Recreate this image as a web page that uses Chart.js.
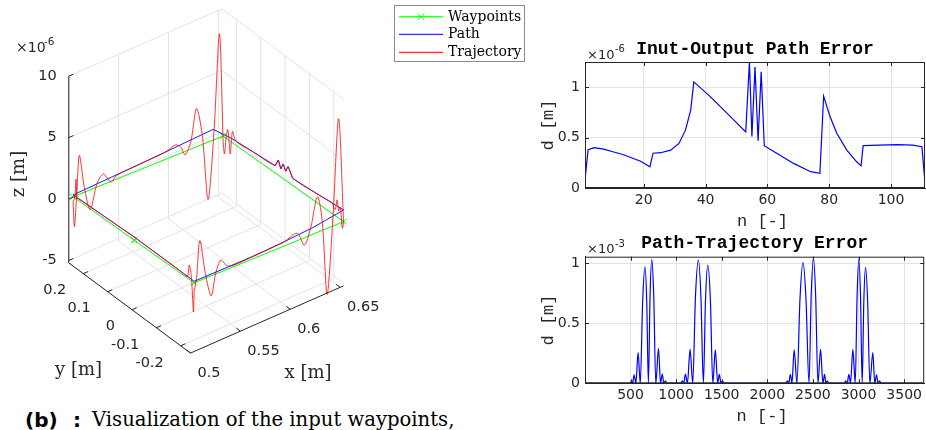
<!DOCTYPE html>
<html><head><meta charset="utf-8">
<script src="https://cdn.jsdelivr.net/npm/chart.js@4.4.1/dist/chart.umd.min.js"></script>
<style>
html,body{margin:0;padding:0;background:#fff;}
body{width:926px;height:430px;position:relative;overflow:hidden;}
canvas{position:absolute;}
.cap{position:absolute;white-space:nowrap;color:#000;line-height:22px;}
</style></head><body>
<canvas id="c3d" width="540" height="400" style="left:0;top:0"></canvas>
<canvas id="c1" width="406" height="204" style="left:520px;top:28px"></canvas>
<canvas id="c2" width="406" height="202" style="left:520px;top:228px"></canvas>
<span class="cap" style="left:25px;top:408px;font:bold 20px 'DejaVu Sans';">(b)</span>
<span class="cap" style="left:73px;top:408px;font:bold 20px 'DejaVu Sans';">:</span>
<span class="cap" style="left:92px;top:408px;font:19.6px 'DejaVu Serif';">Visualization of the input waypoints,</span>
<script>
// ================= DATA =================
// --- 3-D view: waypoints (x,y in m, z in µm) ---
const wpX = [0.5062, 0.5046, 0.6506, 0.6537, 0.5077, 0.5062];
const wpY = [0.016, 0.2610, 0.2430, -0.2393, -0.2238, 0.016];
const wpZ = [0, 0, 0, 0, 0, 0];
// --- path (blue): per waypoint edge, [fraction along edge, z in µm] ---
const pathEdge0 = [[0,0.26],[1,0.15]];
const pathEdge1 = [[0,0.15],[0.5,0.5],[0.934,0.87]];
const pathEdge2 = [[0.07,0.3],[0.25,0.45],[0.431,0.6],[0.458,1.24],[0.48,0.67],[0.498,1.2],[0.52,0.77],[0.539,1.27],[0.559,0.95],[0.58,0.58],[0.8,0.75],[0.95,0.9],[1,0.95]];
const pathEdge3 = [[0,0.95],[0.05,0.85],[0.2,0.55],[0.4,0.34],[0.6,0.2],[1,0.13]];
const pathEdge4 = [[0,0.13],[1,0.26]];
// --- trajectory (red): per waypoint edge, [fraction along edge, z in µm] ---
const trajEdge0 = [[0,0.26],[0.5,0.21],[0.9,0.17],[0.935,0.1],[0.952,1.6],[0.97,0.1],[1,-0.4]];
const trajEdge1 = [[0,-0.4],[0.009,-2.48],[0.025,0.2],[0.042,3.16],[0.075,0.4],[0.114,-1.61],[0.16,0.3],[0.201,0.87],[0.23,0.35],[0.255,-0.06],[0.29,0.3],[0.4,0.42],[0.5,0.5],[0.62,0.6],[0.681,0.85],[0.715,0.55],[0.747,-0.27],[0.785,0.6],[0.823,3.11],[0.862,0.7],[0.9,-4.67],[0.94,0.8],[0.976,8.45],[1,-0.5]];
const trajEdge2 = [[0,-0.5],[0.011,-1.38],[0.025,0.0],[0.038,0.79],[0.049,0.0],[0.059,-1.04],[0.069,0.0],[0.079,0.94],[0.106,0.33],[0.25,0.45],[0.431,0.6],[0.458,1.24],[0.48,0.67],[0.498,1.2],[0.52,0.77],[0.539,1.27],[0.559,0.95],[0.58,0.58],[0.8,0.75],[0.9,0.85],[0.93,0.5],[0.946,1.4],[0.96,0.6],[0.973,1.0],[0.99,-0.6],[1,0]];
const trajEdge3 = [[0,0],[0.033,8.54],[0.07,1.0],[0.11,-5.37],[0.143,0.8],[0.175,2.9],[0.22,0.6],[0.263,-0.6],[0.31,0.6],[0.4,0.34],[0.6,0.2],[0.733,0.12],[0.78,0.3],[0.821,0.96],[0.855,0.1],[0.886,-1.63],[0.925,0.4],[0.962,3.25],[0.985,0.2],[1,-0.6]];
const trajEdge4 = [[0,-0.6],[0.012,-2.4],[0.045,0.2],[0.081,1.17],[0.115,0.1],[0.2,0.15],[1,0.26]];
// --- 3-D axes ---
const X3LIM = [0.5, 0.6535];
const Y3LIM = [-0.2403, 0.2597];
const Z3LIM = [-5.2, 10];
const x3Ticks = [0.5, 0.55, 0.6, 0.65];
const y3Ticks = [-0.2, -0.1, 0, 0.1, 0.2];
const z3Ticks = [-5, 0, 5, 10];

// --- Input-output path error (x1e-6 m) ---
const ioN   = [1, 2, 4, 7, 10, 13, 16, 19, 22, 23, 25.5, 28.7, 31.4, 33.5, 35.2, 36.2, 41.6, 47, 53, 54.2, 55, 56, 57, 58, 59, 63, 68.5, 74, 77, 78.2, 80.3, 82.5, 85.7, 88.9, 90.3, 91, 96, 102, 107, 110, 111];
const ioErr = [0.08, 0.38, 0.40, 0.385, 0.36, 0.335, 0.30, 0.265, 0.21, 0.345, 0.35, 0.376, 0.442, 0.574, 0.772, 1.053, 0.904, 0.74, 0.557, 1.25, 0.51, 1.20, 0.47, 1.152, 0.42, 0.345, 0.244, 0.162, 0.145, 0.911, 0.706, 0.541, 0.376, 0.26, 0.22, 0.42, 0.425, 0.43, 0.425, 0.41, 0.05];
const ioXTicks = [20, 40, 60, 80, 100];
const ioYTicks = [0, 0.5, 1];

// --- Path-trajectory error (x1e-3 m) ---
const ptN = [1, 495, 512, 522, 540, 559, 583, 607, 633, 659, 678, 696, 714, 733, 755, 777, 807, 829, 848, 866, 881, 900,
  1050, 1068, 1084, 1102, 1124, 1153, 1182, 1212, 1244, 1272, 1299, 1322, 1347, 1376, 1402, 1430, 1456, 1474, 1492, 1508, 1525,
  2200, 2222, 2235, 2253, 2270, 2294, 2325, 2358, 2391, 2424, 2457, 2481, 2506, 2530, 2555, 2584, 2609, 2628, 2642, 2657, 2675,
  2845, 2858, 2876, 2894, 2912, 2938, 2964, 2984, 3003, 3022, 3040, 3058, 3077, 3100, 3124, 3157, 3178, 3197, 3215, 3230, 3248, 3720];
const ptErr = [0, 0, 0.02, 0, 0.07, 0, 0.255, 0, 0.68, 0.97, 0.68, 0, 0.72, 1.033, 0.72, 0, 0.29, 0, 0.077, 0, 0.02, 0,
  0, 0.02, 0, 0.077, 0, 0.283, 0, 0.72, 1.027, 0.72, 0, 0.69, 0.986, 0.69, 0, 0.278, 0, 0.075, 0, 0.02, 0,
  0, 0.02, 0, 0.075, 0, 0.278, 0, 0.7, 1.005, 0.7, 0, 0.73, 1.04, 0.73, 0, 0.283, 0, 0.075, 0, 0.02, 0,
  0, 0.02, 0, 0.075, 0, 0.283, 0, 0.72, 1.033, 0.72, 0, 0.68, 0.967, 0.68, 0, 0.256, 0, 0.07, 0, 0.02, 0, 0];
const ptXTicks = [500, 1000, 1500, 2000, 2500, 3000, 3500];
const ptYTicks = [0, 0.5, 1];

// ================= 3-D PROJECTION (view geometry) =================
const ORIGIN = {x:189, y:357};
const VX = {x:156, y:-69};
const VY = {x:-124, y:-92.5};
const VZ = {x:0, y:-191.5};
function proj(x, y, z){
  const fx = (x - X3LIM[0])/(X3LIM[1]-X3LIM[0]);
  const fy = (y - Y3LIM[0])/(Y3LIM[1]-Y3LIM[0]);
  const fz = (z - Z3LIM[0])/(Z3LIM[1]-Z3LIM[0]);
  return {x: ORIGIN.x + fx*VX.x + fy*VY.x + fz*VZ.x,
          y: ORIGIN.y + fx*VX.y + fy*VY.y + fz*VZ.y};
}
function onEdge(k, s, z){
  return proj(wpX[k] + s*(wpX[k+1]-wpX[k]), wpY[k] + s*(wpY[k+1]-wpY[k]), z);
}
function edgeSeries(edges){
  const out = [];
  edges.forEach((arr,k)=>arr.forEach(([s,z])=>out.push(onEdge(k,s,z))));
  return out;
}
const DARK = '#262626';
const GRID = '#e3e3e3';

const view3d = {
  id:'view3d',
  beforeDatasetsDraw(chart){
    const ctx = chart.ctx, sx = chart.scales.x, sy = chart.scales.y;
    const P = (x,y,z)=>{const p = proj(x,y,z); return [sx.getPixelForValue(p.x), sy.getPixelForValue(p.y)];};
    const [xl,xh]=X3LIM,[yl,yh]=Y3LIM,[zl,zh]=Z3LIM;
    ctx.save(); ctx.strokeStyle = GRID; ctx.lineWidth = 1;
    const seg=(a,b)=>{ctx.beginPath();ctx.moveTo(a[0],a[1]);ctx.lineTo(b[0],b[1]);ctx.stroke();};
    x3Ticks.forEach(x=>{seg(P(x,yl,zl),P(x,yh,zl)); seg(P(x,yh,zl),P(x,yh,zh));});
    y3Ticks.forEach(y=>{seg(P(xl,y,zl),P(xh,y,zl)); seg(P(xh,y,zl),P(xh,y,zh));});
    z3Ticks.forEach(z=>{seg(P(xl,yh,z),P(xh,yh,z)); seg(P(xh,yh,z),P(xh,yl,z));});
    ctx.restore();
  },
  afterDatasetsDraw(chart){
    const ctx = chart.ctx, sx = chart.scales.x, sy = chart.scales.y;
    const P = (x,y,z)=>{const p = proj(x,y,z); return [sx.getPixelForValue(p.x), sy.getPixelForValue(p.y)];};
    const [xl,xh]=X3LIM,[yl,yh]=Y3LIM,[zl,zh]=Z3LIM;
    const seg=(a,b)=>{ctx.beginPath();ctx.moveTo(a[0],a[1]);ctx.lineTo(b[0],b[1]);ctx.stroke();};
    const unit=(a,b)=>{const dx=b[0]-a[0],dy=b[1]-a[1],l=Math.hypot(dx,dy);return [dx/l,dy/l];};
    ctx.save();
    ctx.strokeStyle = DARK; ctx.lineWidth = 1;
    seg(P(xl,yh,zl),P(xl,yl,zl));
    seg(P(xl,yl,zl),P(xh,yl,zl));
    seg(P(xl,yh,zl),P(xl,yh,zh));
    const ux = unit(P(xl,yl,zl),P(xh,yl,zl));
    const uy = unit(P(xl,yl,zl),P(xl,yh,zl));
    const T = 5;
    ctx.fillStyle = DARK; ctx.font = "14.5px 'DejaVu Sans'";
    x3Ticks.forEach(x=>{const p=P(x,yl,zl); seg(p,[p[0]+uy[0]*T,p[1]+uy[1]*T]);
      ctx.textAlign='left'; ctx.textBaseline='middle'; ctx.fillText(String(x), p[0]+7, p[1]+20);});
    y3Ticks.forEach(y=>{const p=P(xl,y,zl); seg(p,[p[0]+ux[0]*T,p[1]+ux[1]*T]);
      ctx.textAlign='right'; ctx.textBaseline='middle'; ctx.fillText(String(y), p[0]-17, p[1]+17);});
    z3Ticks.forEach(z=>{const p=P(xl,yh,z); seg(p,[p[0]+ux[0]*T,p[1]+ux[1]*T]);
      ctx.textAlign='right'; ctx.textBaseline='middle'; ctx.fillText(String(z), p[0]-12, p[1]);});
    // exponent
    ctx.textAlign='left'; ctx.textBaseline='alphabetic';
    ctx.font = "14px 'DejaVu Sans'"; ctx.fillText('\u00d710', 16, 52);
    ctx.font = "10.5px 'DejaVu Sans'"; ctx.fillText('-6', 44, 45);
    // axis titles
    ctx.font = "18px 'DejaVu Serif'"; ctx.textAlign='center'; ctx.textBaseline='middle';
    ctx.fillText('x [m]', 308, 373);
    ctx.fillText('y [m]', 78.5, 370);
    ctx.save(); ctx.translate(19,174); ctx.rotate(-Math.PI/2); ctx.fillText('z [m]',0,0); ctx.restore();
    // legend
    ctx.fillStyle='#fff'; ctx.fillRect(394.5,5.5,130,56);
    ctx.strokeStyle='#8c8c8c'; ctx.strokeRect(394.5,5.5,130,56);
    const rows=[16.7,34.3,52.3];
    chart.data.datasets.forEach((ds,i)=>{
      const y=rows[i];
      ctx.strokeStyle=ds.borderColor; ctx.lineWidth=1;
      seg([399,y],[443,y]);
      if(ds.pointRadius>0){ const r=3.2; seg([421-r,y-r],[421+r,y+r]); seg([421-r,y+r],[421+r,y-r]); }
      ctx.fillStyle='#000'; ctx.font="14px 'DejaVu Serif'"; ctx.textAlign='left'; ctx.textBaseline='middle';
      ctx.fillText(ds.label, 448, y+0.5);
    });
    ctx.restore();
  }
};

new Chart(document.getElementById('c3d'), {
  type:'scatter',
  data:{datasets:[
    {label:'Waypoints', data: wpX.map((x,i)=>proj(x,wpY[i],wpZ[i])), showLine:true, borderColor:'#00ff00', borderWidth:1,
     pointStyle:'crossRot', pointRadius:4, pointBorderColor:'#00ff00', pointBorderWidth:1, order:3},
    {label:'Path', data: edgeSeries([pathEdge0,pathEdge1,pathEdge2,pathEdge3,pathEdge4]), showLine:true,
     borderColor:'#0000ff', borderWidth:0.9, pointRadius:0, order:2},
    {label:'Trajectory', data: edgeSeries([trajEdge0,trajEdge1,trajEdge2,trajEdge3,trajEdge4]), showLine:true,
     borderColor:'#ff0000', borderWidth:0.8, pointRadius:0, tension:0.3, order:1}
  ]},
  options:{responsive:false, animation:false, events:[], layout:{padding:0},
    plugins:{legend:{display:false}, tooltip:{enabled:false}},
    scales:{x:{type:'linear', min:0, max:540, display:false},
            y:{type:'linear', min:0, max:400, reverse:true, display:false}},
    elements:{line:{borderCapStyle:'round'}}
  },
  plugins:[view3d]
});

// ================= 2-D error charts =================
function errChart(id, xs, ys, o){
  const frame = {
    id:'frame'+id,
    afterDraw(chart){
      const {ctx, chartArea:a, scales:{x,y}} = chart;
      ctx.save();
      ctx.strokeStyle=DARK; ctx.lineWidth=1;
      ctx.strokeRect(a.left+0.5, a.top+0.5, a.right-a.left-1, a.bottom-a.top-1);
      const L=(x1,y1,x2,y2)=>{ctx.beginPath();ctx.moveTo(x1,y1);ctx.lineTo(x2,y2);ctx.stroke();};
      x.ticks.forEach(t=>{const p=Math.round(x.getPixelForValue(t.value))+0.5; L(p,a.bottom,p,a.bottom-4); L(p,a.top,p,a.top+4);});
      y.ticks.forEach(t=>{const p=Math.round(y.getPixelForValue(t.value))+0.5; L(a.left,p,a.left+4,p); L(a.right,p,a.right-4,p);});
      ctx.fillStyle='#000'; ctx.font="bold 18px 'Liberation Mono'"; ctx.textAlign='center'; ctx.textBaseline='middle';
      ctx.fillText(o.title, (a.left+a.right)/2, a.top-13);
      ctx.fillStyle=DARK; ctx.font="17px 'Liberation Mono'";
      ctx.fillText('n [-]', (a.left+a.right)/2+7.5, a.bottom+33);
      ctx.save(); ctx.translate(a.left-37, (a.top+a.bottom)/2); ctx.rotate(-Math.PI/2); ctx.fillText('d [m]',0,0); ctx.restore();
      ctx.textAlign='left'; ctx.textBaseline='alphabetic';
      ctx.font="13px 'DejaVu Sans'"; ctx.fillText('\u00d710', a.left+2, a.top-3.5);
      ctx.font="10px 'DejaVu Sans'"; ctx.fillText(o.exp, a.left+30, a.top-10);
      ctx.restore();
    }
  };
  return new Chart(document.getElementById(id), {
    type:'line',
    data:{datasets:[{data: xs.map((v,i)=>({x:v, y:ys[i]})), borderColor:'#0000ff', borderWidth:1.2,
      pointRadius:0, tension:0, cubicInterpolationMode: o.mono ? 'monotone' : 'default', clip:0}]},
    options:{responsive:false, animation:false, events:[],
      layout:{padding:{top:o.top, right:1, left:0, bottom:0}},
      plugins:{legend:{display:false}, tooltip:{enabled:false}},
      scales:{
        x:{type:'linear', min:o.xmin, max:o.xmax,
           afterFit:s=>{s.height=o.xh;}, afterBuildTicks:s=>{s.ticks=o.xticks.map(v=>({value:v}));},
           ticks:{font:{family:'DejaVu Sans', size:14}, color:DARK, padding:4, maxRotation:0, autoSkip:false, callback:v=>String(v)},
           grid:{color:GRID, drawTicks:false}, border:{color:DARK}},
        y:{type:'linear', min:0, max:o.ymax,
           afterFit:s=>{s.width=65;}, afterBuildTicks:s=>{s.ticks=o.yticks.map(v=>({value:v}));},
           ticks:{font:{family:'DejaVu Sans', size:14}, color:DARK, padding:5, autoSkip:false, callback:v=>String(v)},
           grid:{color:GRID, drawTicks:false}, border:{color:DARK}}
      }
    },
    plugins:[frame]
  });
}
errChart('c1', ioN, ioErr, {title:'Inut-Output Path Error', exp:'-6', top:34, xh:44, xmin:1, xmax:111, ymax:1.25, xticks:ioXTicks, yticks:ioYTicks, mono:false});
errChart('c2', ptN, ptErr, {title:'Path-Trajectory Error', exp:'-3', top:28.7, xh:46.7, xmin:1, xmax:3720, ymax:1.055, xticks:ptXTicks, yticks:ptYTicks, mono:true});
</script>
</body></html>
